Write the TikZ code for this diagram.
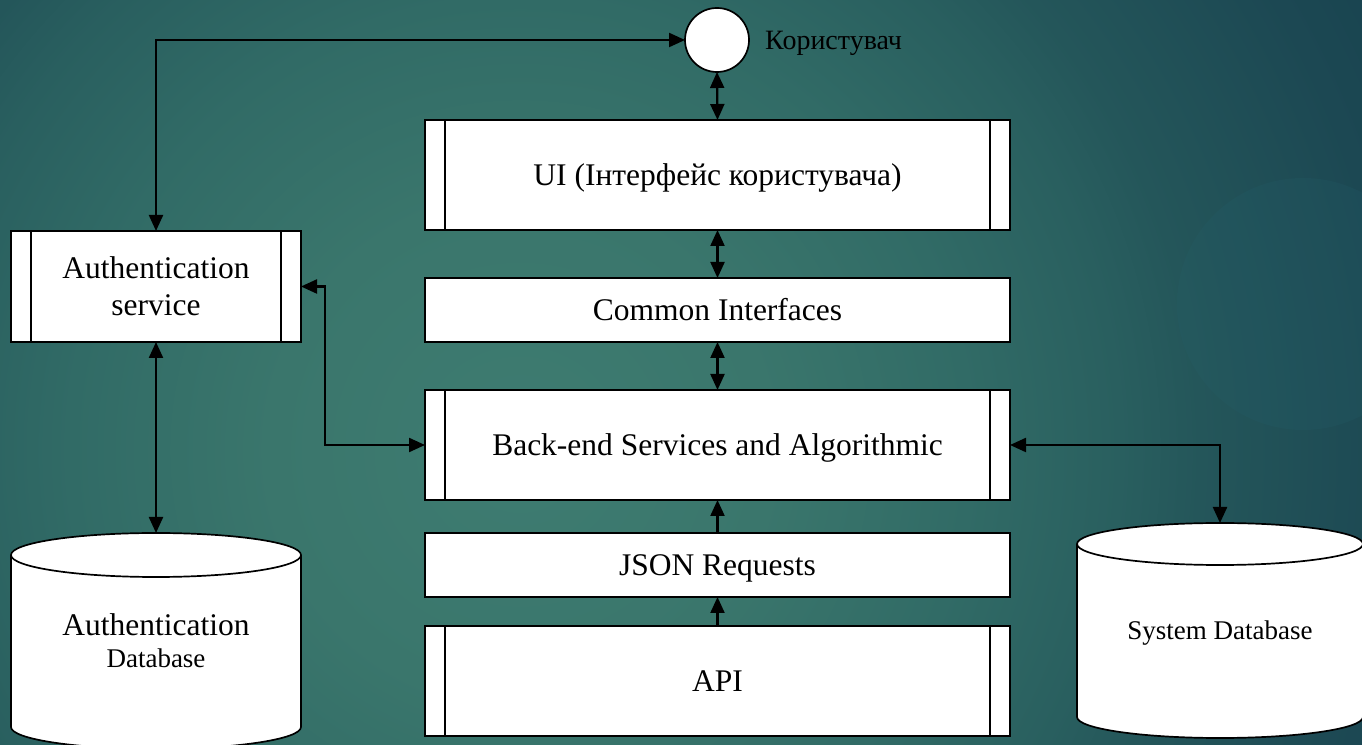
\documentclass[tikz,border=0pt]{standalone}
\usepackage{fontspec}
\setmainfont{Liberation Serif}
\usetikzlibrary{arrows.meta}

% backdrop palette
\definecolor{bgA}{HTML}{3E7C71}
\definecolor{bgB}{HTML}{3A766C}
\definecolor{bgC}{HTML}{316B66}
\definecolor{bgD}{HTML}{295F5F}
\definecolor{bgE}{HTML}{24565A}
\definecolor{bgF}{HTML}{1C4853}
\definecolor{bgG}{HTML}{18434F}
\definecolor{ringtint}{HTML}{24606C}

% radial glow; the shaded path's box maps onto the inner 50bp square,
% so the colour stops all lie within 25bp
\pgfdeclareradialshading{bgglow}{\pgfpoint{0bp}{0bp}}{%
  color(0bp)=(bgA); color(6.25bp)=(bgB); color(11.25bp)=(bgC);
  color(15bp)=(bgD); color(17bp)=(bgE); color(22bp)=(bgF);
  color(25bp)=(bgG); color(50bp)=(bgG)}

\pgfdeclarelayer{backdrop}
\pgfdeclarelayer{shapes}
\pgfsetlayers{backdrop,shapes,main}

\newcommand\mainsz{\fontsize{31.5}{37}\selectfont}
\newcommand\smallsz{\fontsize{27}{33}\selectfont}

\tikzset{
  flow/.style={rectangle, draw=black, line width=1.7pt, fill=white,
    inner sep=0pt, outer sep=0pt, font=\mainsz, align=center},
  layerbox/.style={flow, minimum width=585pt, text height=21pt, text depth=0pt},
  barred/.style={path picture={
    \draw[line width=1.2pt]
      ([xshift=20pt]path picture bounding box.north west) --
      ([xshift=20pt]path picture bounding box.south west);
    \draw[line width=1.2pt]
      ([xshift=-20pt]path picture bounding box.north east) --
      ([xshift=-20pt]path picture bounding box.south east);}},
  dbnode/.style={rectangle, inner sep=0pt, outer sep=0pt, align=center},
  dbline/.style={draw=black, line width=1.7pt, fill=white},
  tip/.tip={Triangle[length=16pt,width=14pt]},
  link/.style={line width=2.2pt, tip-tip},
  feed/.style={line width=2.2pt, -tip},
}

\begin{document}
\begin{tikzpicture}[x=1pt,y=1pt]
\useasboundingbox (0,0) rectangle (1362,744);

% backdrop
\begin{pgfonlayer}{backdrop}
  \begin{scope}
    \clip (0,0) rectangle (1362,744);
    \shade[shading=bgglow] (-480,-706) rectangle (1520,1294);
    \fill[ringtint, opacity=0.2] (1303,440) circle (126pt);
  \end{scope}
\end{pgfonlayer}

% user
\node[circle, draw=black, line width=1.7pt, fill=white, minimum size=64pt,
      inner sep=0pt, outer sep=0pt] (user) at (717,704) {};
\node[anchor=west, inner sep=0pt, font=\fontsize{28}{33}\selectfont] (userlbl) at (765,701) {Користувач};

% central stack
\node[layerbox, barred, minimum height=110pt] (ui) at (717.5,569) {UI (Інтерфейс користувача)};
\node[layerbox, minimum height=64pt] (common) at (717.5,434) {Common Interfaces};
\node[layerbox, barred, minimum height=110pt] (backend) at (717.5,299) {Back-end Services and Algorithmic};
\node[layerbox, minimum height=64pt] (json) at (717.5,179) {JSON Requests};
\node[layerbox, barred, minimum height=110pt] (api) at (717.5,63) {API};

% authentication
\node[flow, barred, minimum width=290pt, minimum height=111pt] (authsvc) at (156,457.5)
  {Authentication\\service};
\node[dbnode, font=\mainsz, minimum width=290pt, minimum height=216pt] (authdb) at (156,103)
  {Authentication\\[-5pt]{\smallsz Database}};

% system database
\node[dbnode, minimum width=286pt, minimum height=215pt, font=\smallsz,
      text height=18pt, text depth=0pt] (sysdb) at (1220,113.5)
  {System Database};

% cylinder outlines
\begin{pgfonlayer}{shapes}
  \foreach \db/\rx/\ry in {authdb/145/22, sysdb/143/21}{
    \draw[dbline] ([yshift=-\ry pt]\db.north west) -- ([yshift=\ry pt]\db.south west)
      arc[start angle=180, end angle=360, x radius=\rx pt, y radius=\ry pt]
      -- ([yshift=-\ry pt]\db.north east)
      arc[start angle=0, end angle=180, x radius=\rx pt, y radius=\ry pt] -- cycle;
    \draw[line width=1.7pt] ([yshift=-\ry pt]\db.north west)
      arc[start angle=180, end angle=360, x radius=\rx pt, y radius=\ry pt];
  }
\end{pgfonlayer}

% connectors
\draw[link] (authsvc.north) |- (user.west);
\draw[link] (user.south) -- (ui.north);
\draw[link] (ui.south) -- (common.north);
\draw[link] (common.south) -- (backend.north);
\draw[feed] (json.north) -- (backend.south);
\draw[feed] (api.north) -- (json.south);
\draw[link] (authsvc.east) -- ++(24pt,0) |- (backend.west);
\draw[link] (backend.east) -| (sysdb.north);
\draw[link] (authsvc.south) -- (authdb.north);
\end{tikzpicture}
\end{document}
